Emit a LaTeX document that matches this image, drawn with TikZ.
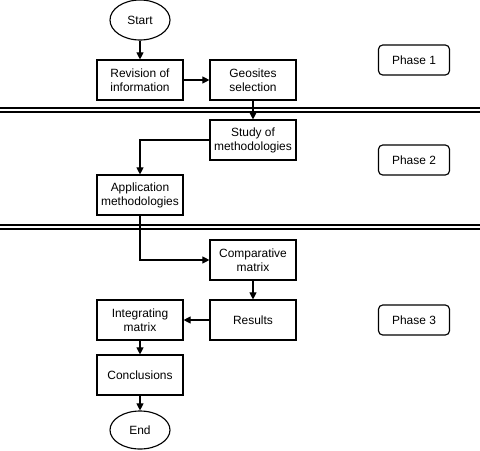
\documentclass[tikz,border=0pt]{standalone}
\usepackage{fontspec}
\setmainfont{Liberation Sans}
\usetikzlibrary{positioning, arrows.meta, shapes.geometric}
\tikzset{
  stepbox/.style={draw, line width=0.8pt, minimum width=2.15cm, minimum height=1cm, align=center, inner sep=1pt},
  terminal/.style={draw, ellipse, line width=0.8pt, minimum width=1.5cm, minimum height=1cm, inner sep=0pt},
  phasebox/.style={draw, rounded corners=3pt, line width=0.8pt, minimum width=1.775cm, minimum height=0.75cm},
  flow/.style={line width=0.8pt, -{Triangle[length=5pt, width=5pt]}},
  sepline/.style={line width=0.8pt}
}

\begin{document}
\begin{tikzpicture}[x=0.025cm, y=-0.025cm, font=\fontsize{8.5}{10}\selectfont]
  \useasboundingbox (0,0) rectangle (480,450);
  % phase separators
  \draw[sepline] (0,108) -- (480,108);
  \draw[sepline] (0,112) -- (480,112);
  \draw[sepline] (0,225) -- (480,225);
  \draw[sepline] (0,229) -- (480,229);
  % phase 1
  \node[terminal] (start) at (140,20) {Start};
  \node[stepbox] (revision) at (140,80) {Revision of\\information};
  \node[stepbox] (geosites) at (253,80) {Geosites\\selection};
  % phase 2
  \node[stepbox] (study) at (253,140) {Study of\\methodologies};
  \node[stepbox] (application) at (140,195) {Application\\methodologies};
  % phase 3
  \node[stepbox] (comparative) at (253,260) {Comparative\\matrix};
  \node[stepbox] (results) at (253,320) {Results};
  \node[stepbox] (integrating) at (140,320) {Integrating\\matrix};
  \node[stepbox] (conclusions) at (140,375) {Conclusions};
  \node[terminal, minimum height=0.95cm] (end) at (140,430) {End};
  % phase labels
  \node[phasebox] (phase1) at (414,60) {Phase 1};
  \node[phasebox] (phase2) at (414,160) {Phase 2};
  \node[phasebox] (phase3) at (414,320) {Phase 3};
  % flow
  \draw[flow] (start) -- (revision);
  \draw[flow] (revision) -- (geosites);
  \draw[flow] (geosites) -- (study);
  \draw[flow] (study.west) -| (application.north);
  \draw[flow] (application.south) |- (comparative.west);
  \draw[flow] (comparative) -- (results);
  \draw[flow] (results) -- (integrating);
  \draw[flow] (integrating) -- (conclusions);
  \draw[flow] (conclusions) -- (end);
\end{tikzpicture}
\end{document}
